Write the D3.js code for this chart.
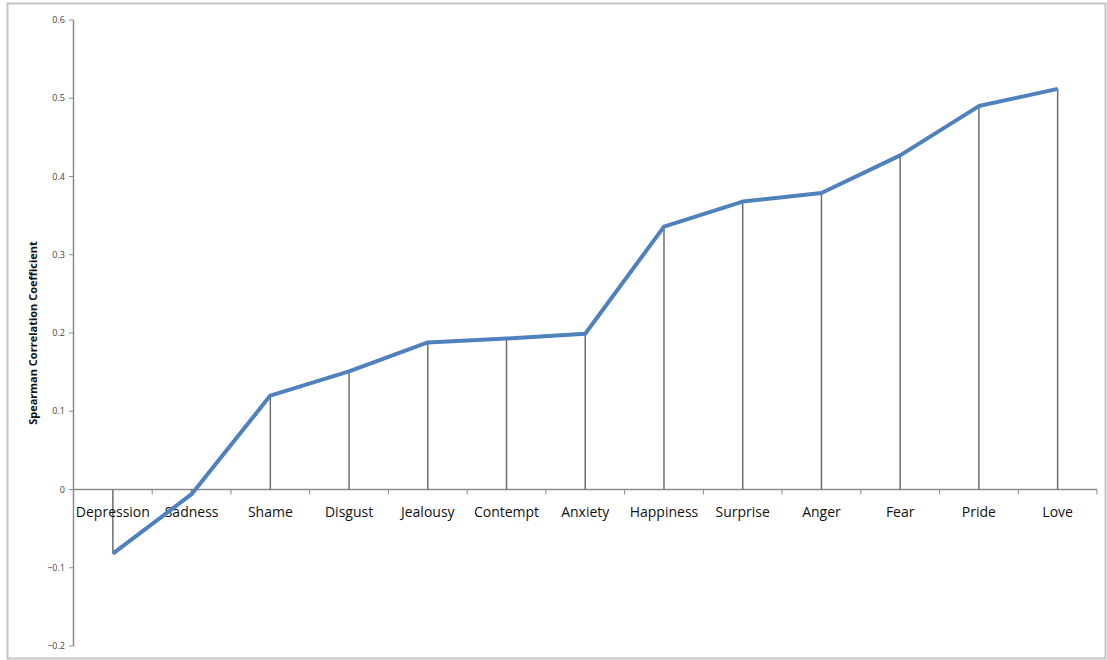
<!DOCTYPE html>
<meta charset="utf-8">
<style>
    body { margin: 0; background: #fff; }
    .yTick { font: 9px "Open Sans", sans-serif; fill: #444; }
    .xLabel { font: 14px "Open Sans", sans-serif; fill: #111; }
    .axisTitle { font: bold 11px "Open Sans", sans-serif; fill: #111; }
</style>
<body>
<script src="https://d3js.org/d3.v7.min.js"></script>
<script>
    // data
    const emotions = ["Depression", "Sadness", "Shame", "Disgust", "Jealousy", "Contempt", "Anxiety",
                      "Happiness", "Surprise", "Anger", "Fear", "Pride", "Love"];
    const spearman = [-0.082, -0.006, 0.12, 0.151, 0.188, 0.193, 0.199,
                      0.336, 0.368, 0.379, 0.427, 0.490, 0.512];
    const yTicks = [-0.2, -0.1, 0, 0.1, 0.2, 0.3, 0.4, 0.5, 0.6];

    let width = 1107, height = 660;

    let svg = d3.select("body").append("svg")
        .attr("width", width)
        .attr("height", height);

    // outer chart frame
    svg.append("rect")
        .attr("x", 7.5).attr("y", 3.5)
        .attr("width", 1098).attr("height", 655)
        .attr("fill", "none")
        .attr("stroke", "#c4c4c4")
        .attr("stroke-width", 2);

    let x = d3.scaleBand()
        .domain(emotions)
        .range([73.5, 1097]);

    let y = d3.scaleLinear()
        .domain([-0.2, 0.6])
        .range([646, 20]);

    // y axis
    let yAxis = svg.append("g");
    yAxis.append("line")
        .attr("x1", 73.5).attr("x2", 73.5)
        .attr("y1", y(0.6)).attr("y2", y(-0.2))
        .attr("stroke", "#8c8c8c").attr("stroke-width", 1.5);
    yAxis.selectAll(".tk").data(yTicks).join("line")
        .attr("x1", 69).attr("x2", 73.5)
        .attr("y1", d => y(d)).attr("y2", d => y(d))
        .attr("stroke", "#8c8c8c");
    yAxis.selectAll("text").data(yTicks).join("text")
        .attr("class", "yTick")
        .attr("x", 65)
        .attr("y", d => y(d))
        .attr("dy", "0.35em")
        .attr("text-anchor", "end")
        .text(d => d === 0 ? "0" : d3.format(".1f")(d));

    // y axis title
    svg.append("text")
        .attr("class", "axisTitle")
        .attr("transform", "translate(37," + y(0.2) + ") rotate(-90)")
        .attr("text-anchor", "middle")
        .text("Spearman Correlation Coefficient");

    // x axis at zero
    let xAxis = svg.append("g");
    xAxis.append("line")
        .attr("x1", 73.5).attr("x2", 1097)
        .attr("y1", y(0)).attr("y2", y(0))
        .attr("stroke", "#8c8c8c").attr("stroke-width", 1.5);
    let bounds = emotions.map(d => x(d)).concat([x.range()[1]]);
    xAxis.selectAll(".tk").data(bounds).join("line")
        .attr("x1", d => d).attr("x2", d => d)
        .attr("y1", y(0)).attr("y2", y(0) + 5)
        .attr("stroke", "#8c8c8c");

    // drop lines from each point to the axis
    svg.append("g").selectAll("line")
        .data(spearman)
        .join("line")
            .attr("x1", (d, i) => x(emotions[i]) + x.bandwidth() / 2)
            .attr("x2", (d, i) => x(emotions[i]) + x.bandwidth() / 2)
            .attr("y1", y(0))
            .attr("y2", d => y(d))
            .attr("stroke", "#6e6e6e")
            .attr("stroke-width", 1.5);

    // category labels
    svg.append("g").selectAll("text")
        .data(emotions)
        .join("text")
            .attr("class", "xLabel")
            .attr("x", d => x(d) + x.bandwidth() / 2)
            .attr("y", y(0) + 27)
            .attr("text-anchor", "middle")
            .text(d => d);

    // the series line
    let line = d3.line()
        .x((d, i) => x(emotions[i]) + x.bandwidth() / 2)
        .y(d => y(d));

    svg.append("path")
        .datum(spearman)
        .attr("d", line)
        .attr("fill", "none")
        .attr("stroke", "#4f81bd")
        .attr("stroke-width", 4)
        .attr("stroke-linejoin", "round");
</script>
</body>
